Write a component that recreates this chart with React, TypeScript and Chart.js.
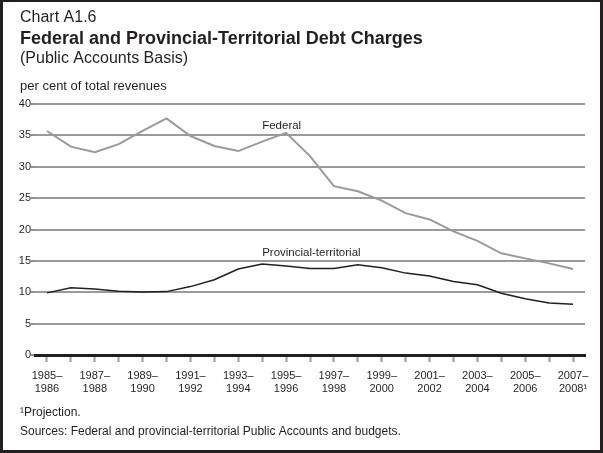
import React, { useEffect, useRef } from 'react';
import { Chart, registerables } from 'chart.js';

Chart.register(...registerables);

const fiscalStart = ['1985', '1986', '1987', '1988', '1989', '1990', '1991', '1992', '1993', '1994', '1995', '1996', '1997', '1998', '1999', '2000', '2001', '2002', '2003', '2004', '2005', '2006', '2007'];
const fiscalEnd = ['1986', '1987', '1988', '1989', '1990', '1991', '1992', '1993', '1994', '1995', '1996', '1997', '1998', '1999', '2000', '2001', '2002', '2003', '2004', '2005', '2006', '2007', '2008¹'];
const federal = [35.7, 33.2, 32.3, 33.6, 35.7, 37.7, 34.9, 33.3, 32.5, 34.0, 35.4, 31.7, 26.9, 26.1, 24.6, 22.6, 21.6, 19.7, 18.2, 16.2, 15.4, 14.6, 13.7];
const provincial = [9.9, 10.7, 10.5, 10.15, 10.05, 10.1, 10.9, 12.0, 13.7, 14.5, 14.2, 13.8, 13.8, 14.4, 13.9, 13.05, 12.6, 11.7, 11.2, 9.85, 8.95, 8.3, 8.1];
const yMin = 0;
const yMax = 40;
const yStep = 5;

const categoryLabels = fiscalStart.map((s, i) => [s + '–', fiscalEnd[i]]);

export default function App() {
  const ref = useRef<HTMLCanvasElement>(null);
  useEffect(() => {
    document.body.style.margin = '0';
    const canvas = ref.current!;
    const ink = '#231f20';
    const grey = '#9a9a9a';
    const font = "'Liberation Sans', Arial, Helvetica, sans-serif";
    Chart.defaults.font.family = font;

    const decor = {
      id: 'decor',
      beforeDraw(chart: any) {
        const ctx = chart.ctx;
        ctx.save();
        ctx.fillStyle = '#ffffff';
        ctx.fillRect(0, 0, chart.width, chart.height);
        ctx.restore();
      },
      afterDraw(chart: any) {
        const ctx = chart.ctx;
        const x = chart.scales.x;
        const y = chart.scales.y;
        const W = chart.width;
        const H = chart.height;
        ctx.save();
        ctx.fillStyle = ink;
        ctx.textAlign = 'left';
        ctx.textBaseline = 'alphabetic';
        ctx.font = `16px ${font}`;
        ctx.fillText('Chart A1.6', 20, 22);
        ctx.font = `bold 18px ${font}`;
        ctx.fillText('Federal and Provincial-Territorial Debt Charges', 20, 44);
        ctx.font = `16px ${font}`;
        ctx.fillText('(Public Accounts Basis)', 20, 63);
        ctx.font = `13px ${font}`;
        ctx.fillText('per cent of total revenues', 20, 90);

        ctx.font = `11.5px ${font}`;
        ctx.textBaseline = 'middle';
        ctx.fillText('Federal', x.getPixelForValue(9), y.getPixelForValue(36.5));
        ctx.fillText('Provincial-territorial', x.getPixelForValue(9), y.getPixelForValue(16.3));

        ctx.textBaseline = 'alphabetic';
        ctx.font = `12px ${font}`;
        ctx.fillText('¹Projection.', 20, 416);
        ctx.fillText('Sources: Federal and provincial-territorial Public Accounts and budgets.', 20, 435);

        // frame
        ctx.fillRect(0, 0, W, 2);
        ctx.fillRect(0, 0, 3, H);
        ctx.fillRect(W - 3, 0, 3, H);
        ctx.fillRect(0, H - 3, W, 3);
        ctx.restore();
      },
    };

    const chart = new Chart(canvas, {
      type: 'line',
      data: {
        labels: categoryLabels,
        datasets: [
          { label: 'Federal', data: federal, borderColor: grey, borderWidth: 2, pointRadius: 0, tension: 0, fill: false },
          { label: 'Provincial-territorial', data: provincial, borderColor: ink, borderWidth: 1.5, pointRadius: 0, tension: 0, fill: false },
        ],
      },
      options: {
        responsive: false,
        animation: false,
        devicePixelRatio: 1,
        layout: { padding: { left: 5, right: 18, top: 104, bottom: 0 } },
        plugins: { legend: { display: false }, tooltip: { enabled: false } },
        scales: {
          x: {
            offset: true,
            grid: { display: true, drawOnChartArea: false, offset: false, tickLength: 7, tickColor: grey, tickWidth: 2 },
            border: { display: true, color: ink, width: 3 },
            ticks: {
              autoSkip: false,
              maxRotation: 0,
              minRotation: 0,
              color: ink,
              font: { size: 11, family: font },
              padding: 7,
              callback: (_v: any, i: number) => (i % 2 === 0 ? categoryLabels[i] : ''),
            },
            afterFit: (s: any) => { s.height = 98; },
          },
          y: {
            min: yMin,
            max: yMax,
            ticks: { stepSize: yStep, color: ink, font: { size: 11, family: font }, padding: 0 },
            grid: { color: grey, lineWidth: 2, tickLength: 4, tickColor: ink, tickWidth: 1 },
            border: { display: false },
            afterFit: (s: any) => { s.width = 30; },
          },
        },
      },
      plugins: [decor],
    });
    return () => chart.destroy();
  }, []);
  return <canvas ref={ref} width={603} height={453} style={{ display: 'block' }} />;
}
